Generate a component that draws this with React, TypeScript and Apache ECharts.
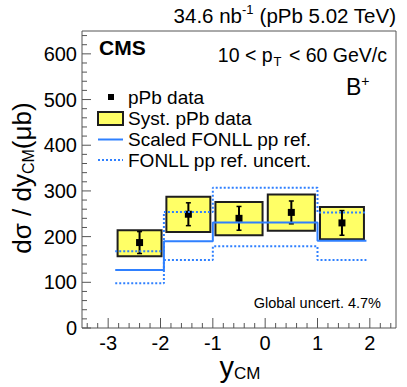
import React, { useEffect, useRef } from 'react';
import * as echarts from 'echarts';

// ---- data ----
const binEdges = [-2.865, -1.935, -1.0, 0.0, 1.0, 1.935];
const binCenters = [-2.4, -1.4675, -0.5, 0.5, 1.4675];
const pPbValues = [187, 249, 240, 253, 230];
const statErrors = [24, 25, 26, 25, 27];
const systLow = [157, 210, 203, 213, 194];
const systHigh = [214, 287, 276, 292, 265];
const boxHalfWidths = [0.42, 0.42, 0.45, 0.45, 0.42];
const fonllCentral = [127, 190, 231, 231, 191];
const fonllUpper = [168, 254, 307, 307, 253];
const fonllLower = [98, 149, 179, 179, 149];

// ---- axis ticks ----
const xMajorTicks = [-3, -2, -1, 0, 1, 2];
const xMinorTicks = [-3.4, -3.2, -2.8, -2.6, -2.4, -2.2, -1.8, -1.6, -1.4, -1.2, -0.8, -0.6, -0.4, -0.2,
  0.2, 0.4, 0.6, 0.8, 1.2, 1.4, 1.6, 1.8, 2.2, 2.4];
const yMajorTicks = [0, 100, 200, 300, 400, 500, 600];
const yMinorTicks = [20, 40, 60, 80, 120, 140, 160, 180, 220, 240, 260, 280, 320, 340, 360, 380,
  420, 440, 460, 480, 520, 540, 560, 580, 620, 640];

const FONT = "'Liberation Sans', Arial, Helvetica, sans-serif";
const BLUE = '#2f80ff';
const FRAME = '#555';
const X_MIN = -3.5;
const X_MAX = 2.5;
const Y_MIN = 0;
const Y_MAX = 650;

function stepPoints(vals: number[]) {
  const pts: number[][] = [];
  vals.forEach((v, i) => {
    pts.push([binEdges[i], v]);
    pts.push([binEdges[i + 1], v]);
  });
  return pts;
}

export default function App() {
  const ref = useRef<HTMLDivElement>(null);
  useEffect(() => {
    if (!ref.current) return;
    const chart = echarts.init(ref.current, null, { renderer: 'svg' });

    const tickData: number[][] = [
      ...xMajorTicks.map((v) => [v, 0, 10]),
      ...xMinorTicks.map((v) => [v, 0, 5]),
      ...yMajorTicks.map((v) => [v, 1, 9]),
      ...yMinorTicks.map((v) => [v, 1, 5]),
    ];

    const option: any = {
      animation: false,
      backgroundColor: '#fff',
      textStyle: { fontFamily: FONT },
      grid: {
        left: 82, right: 11, top: 31, bottom: 59,
        show: true, borderColor: FRAME, borderWidth: 1, backgroundColor: 'transparent',
      },
      xAxis: {
        type: 'value', min: X_MIN, max: X_MAX, interval: 0.5,
        axisLine: { show: false }, axisTick: { show: false }, splitLine: { show: false },
        axisLabel: {
          fontSize: 20, color: '#000', fontFamily: FONT, margin: 5,
          formatter: (v: number) => (Number.isInteger(v) ? String(v) : ''),
        },
      },
      yAxis: {
        type: 'value', min: Y_MIN, max: Y_MAX, interval: 100,
        axisLine: { show: false }, axisTick: { show: false }, splitLine: { show: false },
        axisLabel: {
          fontSize: 20, color: '#000', fontFamily: FONT, margin: 5,
          formatter: (v: number) => (v <= 600 ? String(v) : ''),
        },
      },
      series: [
        {
          type: 'custom', name: 'Syst. pPb data',
          encode: { x: 0, y: [2, 3] },
          data: binCenters.map((c, i) => [c, boxHalfWidths[i], systLow[i], systHigh[i]]),
          renderItem: (_p: any, api: any) => {
            const c = api.value(0), hw = api.value(1), lo = api.value(2), hi = api.value(3);
            const a = api.coord([c - hw, hi]);
            const b = api.coord([c + hw, lo]);
            return {
              type: 'rect',
              shape: { x: a[0], y: a[1], width: b[0] - a[0], height: b[1] - a[1] },
              style: { fill: '#ffff66', stroke: '#1e1e1e', lineWidth: 2 },
            };
          },
        },
        {
          type: 'line', name: 'FONLL upper', data: stepPoints(fonllUpper), symbol: 'none',
          lineStyle: { color: BLUE, width: 2, type: [2, 2] },
        },
        {
          type: 'line', name: 'FONLL lower', data: stepPoints(fonllLower), symbol: 'none',
          lineStyle: { color: BLUE, width: 2, type: [2, 2] },
        },
        {
          type: 'line', name: 'Scaled FONLL pp ref.', data: stepPoints(fonllCentral), symbol: 'none',
          lineStyle: { color: BLUE, width: 2 },
        },
        {
          type: 'custom', name: 'pPb data',
          encode: { x: 0, y: 1 },
          data: binCenters.map((c, i) => [c, pPbValues[i], statErrors[i]]),
          renderItem: (_p: any, api: any) => {
            const x = api.value(0), v = api.value(1), e = api.value(2);
            const top = api.coord([x, v + e]);
            const bot = api.coord([x, v - e]);
            const mid = api.coord([x, v]);
            const st = { stroke: '#000', lineWidth: 2 };
            return {
              type: 'group',
              children: [
                { type: 'line', shape: { x1: top[0], y1: top[1], x2: bot[0], y2: bot[1] }, style: st },
                { type: 'line', shape: { x1: top[0] - 2.5, y1: top[1], x2: top[0] + 2.5, y2: top[1] }, style: { stroke: '#000', lineWidth: 1.5 } },
                { type: 'line', shape: { x1: bot[0] - 2.5, y1: bot[1], x2: bot[0] + 2.5, y2: bot[1] }, style: { stroke: '#000', lineWidth: 1.5 } },
                { type: 'rect', shape: { x: mid[0] - 3.5, y: mid[1] - 3.5, width: 7, height: 7 }, style: { fill: '#000' } },
              ],
            };
          },
        },
        {
          type: 'custom', name: 'ticks', silent: true,
          encode: { x: 0, y: 1 },
          data: tickData,
          renderItem: (_p: any, api: any) => {
            const v = api.value(0), ax = api.value(1), len = api.value(2);
            if (ax === 0) {
              const p = api.coord([v, Y_MIN]);
              return { type: 'line', shape: { x1: p[0], y1: p[1], x2: p[0], y2: p[1] - len }, style: { stroke: FRAME, lineWidth: 1 } };
            }
            const p = api.coord([X_MIN, v]);
            return { type: 'line', shape: { x1: p[0], y1: p[1], x2: p[0] + len, y2: p[1] }, style: { stroke: FRAME, lineWidth: 1 } };
          },
        },
      ],
      graphic: [
        {
          type: 'text', x: 396, y: 15,
          style: {
            text: '{a|34.6 nb}{s|-1}{a| (pPb 5.02 TeV)}',
            align: 'right', verticalAlign: 'middle', fill: '#000',
            rich: {
              a: { fontSize: 20.5, lineHeight: 24, fontFamily: FONT, fill: '#000' },
              s: { fontSize: 13, lineHeight: 13, verticalAlign: 'top', fontFamily: FONT, fill: '#000' },
            },
          },
        },
        {
          type: 'text', x: 99, y: 47,
          style: { text: 'CMS', fontSize: 21, fontWeight: 'bold', fontFamily: FONT, fill: '#000', align: 'left', verticalAlign: 'middle' },
        },
        {
          type: 'text', x: 387, y: 55,
          style: {
            text: '{a|10 < p}{s|T}{a| < 60 GeV/c}',
            align: 'right', verticalAlign: 'middle', fill: '#000',
            rich: {
              a: { fontSize: 19.5, lineHeight: 26, fontFamily: FONT, fill: '#000' },
              s: { fontSize: 13, lineHeight: 13, verticalAlign: 'bottom', fontFamily: FONT, fill: '#000', padding: [0, 2, 0, 1] },
            },
          },
        },
        {
          type: 'text', x: 346, y: 87,
          style: {
            text: '{a|B}{s|+}',
            align: 'left', verticalAlign: 'middle', fill: '#000',
            rich: {
              a: { fontSize: 23, lineHeight: 26, fontFamily: FONT, fill: '#000' },
              s: { fontSize: 14, lineHeight: 14, verticalAlign: 'top', fontFamily: FONT, fill: '#000' },
            },
          },
        },
        // legend
        { type: 'rect', shape: { x: 108, y: 94, width: 6, height: 6 }, style: { fill: '#000' } },
        { type: 'rect', shape: { x: 98, y: 112, width: 25, height: 13 }, style: { fill: '#ffff66', stroke: '#1e1e1e', lineWidth: 2 } },
        { type: 'line', shape: { x1: 98, y1: 139.5, x2: 123, y2: 139.5 }, style: { stroke: BLUE, lineWidth: 2 } },
        { type: 'line', shape: { x1: 98, y1: 160, x2: 123, y2: 160 }, style: { stroke: BLUE, lineWidth: 2, lineDash: [2, 2] } },
        { type: 'text', x: 128, y: 97, style: { text: 'pPb data', fontSize: 19, fontFamily: FONT, fill: '#000', verticalAlign: 'middle' } },
        { type: 'text', x: 128, y: 118, style: { text: 'Syst. pPb data', fontSize: 19, fontFamily: FONT, fill: '#000', verticalAlign: 'middle' } },
        { type: 'text', x: 128, y: 139, style: { text: 'Scaled FONLL pp ref.', fontSize: 19, fontFamily: FONT, fill: '#000', verticalAlign: 'middle' } },
        { type: 'text', x: 128, y: 160, style: { text: 'FONLL pp ref. uncert.', fontSize: 19, fontFamily: FONT, fill: '#000', verticalAlign: 'middle' } },
        {
          type: 'text', x: 381, y: 303,
          style: { text: 'Global uncert. 4.7%', fontSize: 14.5, fontFamily: FONT, fill: '#000', align: 'right', verticalAlign: 'middle' },
        },
        // axis titles
        {
          type: 'text', x: 240, y: 367,
          style: {
            text: '{a|y}{s|CM}',
            align: 'center', verticalAlign: 'middle', fill: '#000',
            rich: {
              a: { fontSize: 29, lineHeight: 30, fontFamily: FONT, fill: '#000' },
              s: { fontSize: 17, lineHeight: 17, verticalAlign: 'bottom', fontFamily: FONT, fill: '#000' },
            },
          },
        },
        {
          type: 'text', x: 22, y: 178, rotation: Math.PI / 2,
          style: {
            text: '{a|dσ / dy}{s|CM}{a|(μb)}',
            align: 'center', verticalAlign: 'middle', fill: '#000',
            rich: {
              a: { fontSize: 26, lineHeight: 28, fontFamily: FONT, fill: '#000' },
              s: { fontSize: 16, lineHeight: 16, verticalAlign: 'bottom', fontFamily: FONT, fill: '#000' },
            },
          },
        },
      ],
    };

    chart.setOption(option);
    return () => chart.dispose();
  }, []);

  return (
    <div
      ref={ref}
      style={{ position: 'fixed', left: 0, top: 0, width: 407, height: 387, background: '#fff' }}
    />
  );
}
